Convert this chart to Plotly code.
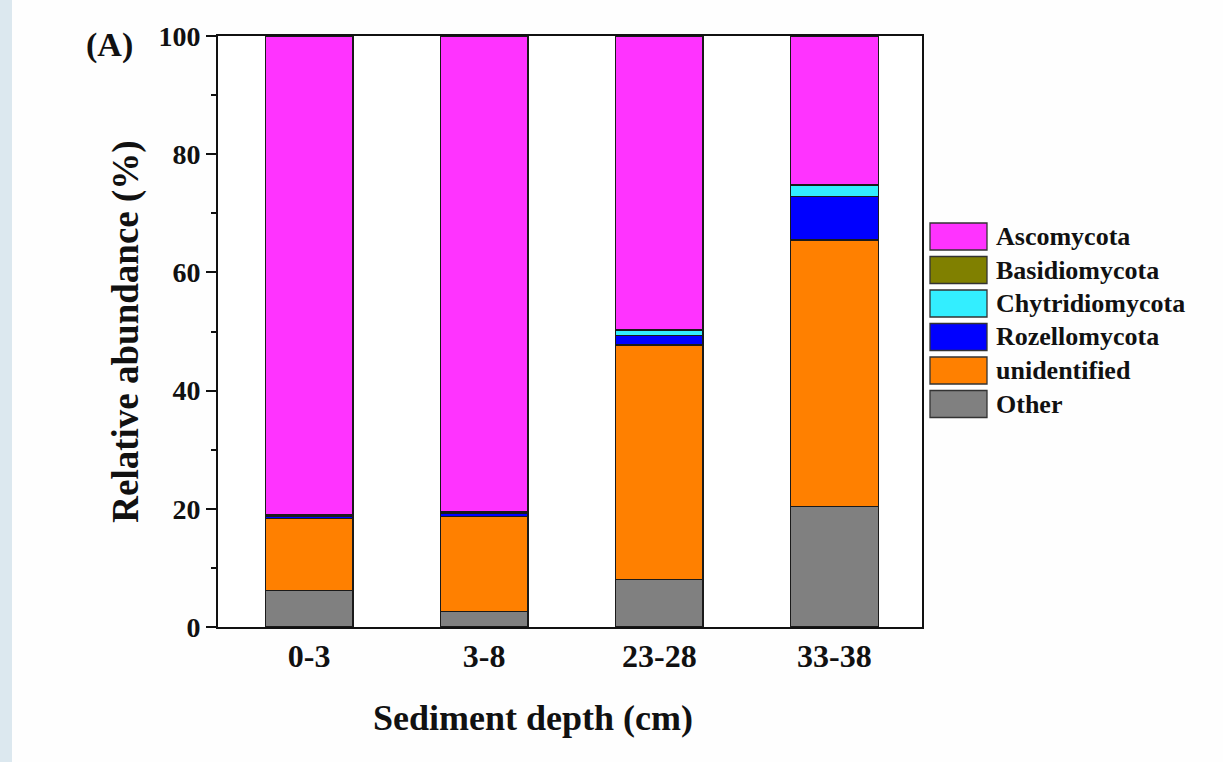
import plotly.graph_objects as go

depths = ["0-3", "3-8", "23-28", "33-38"]
# stacking order from bottom to top
series_names = ["Other", "unidentified", "Rozellomycota", "Chytridiomycota", "Basidiomycota", "Ascomycota"]
other = [6.2, 2.6, 8.0, 20.4]
unidentified = [12.2, 16.1, 39.7, 45.1]
rozellomycota = [0.3, 0.5, 1.6, 7.3]
chytridiomycota = [0.1, 0.1, 0.9, 2.0]
basidiomycota = [0.2, 0.3, 0.1, 0.1]
ascomycota = [81.0, 80.4, 49.7, 25.1]
series_values = [other, unidentified, rozellomycota, chytridiomycota, basidiomycota, ascomycota]
colors = ["#808080", "#FF8000", "#0000FF", "#33EEFF", "#808000", "#FF33FF"]
y_ticks = [0, 20, 40, 60, 80, 100]

FONT = "Liberation Serif"
INK = "#111111"

fig = go.Figure()
for name, vals, col in zip(series_names, series_values, colors):
    fig.add_trace(go.Bar(
        x=depths, y=vals, name=name,
        marker=dict(color=col, line=dict(color="#1a1a1a", width=1.3)),
        showlegend=False,
    ))

# Legend drawn as boxes + text (top to bottom: reverse stacking order)
L = 704.0
T = 591.0
def px_x(p):
    return (p - 218) / L
def px_y(p):
    return (627 - p) / T

legend_items = list(zip(series_names, colors))[::-1]
for i, (name, col) in enumerate(legend_items):
    top = 223 + i * 33.5
    bot = top + 27
    fig.add_shape(type="rect", xref="paper", yref="paper",
                  x0=px_x(930), x1=px_x(987), y0=px_y(bot), y1=px_y(top),
                  fillcolor=col, line=dict(color="#333333", width=1.3))
    fig.add_annotation(xref="paper", yref="paper", x=px_x(994), y=px_y((top + bot) / 2),
                       text=name, showarrow=False, xanchor="left", yanchor="middle",
                       font=dict(family=FONT, size=26, color=INK, weight="bold"))

# left light blue strip of the slide background
fig.add_shape(type="rect", xref="paper", yref="paper",
              x0=px_x(0), x1=px_x(12), y0=px_y(762), y1=px_y(0),
              fillcolor="#dce8ef", line=dict(width=0), layer="below")

fig.add_annotation(xref="paper", yref="paper", x=px_x(109), y=px_y(45),
                   text="(A)", showarrow=False, xanchor="center", yanchor="middle",
                   font=dict(family=FONT, size=34, color=INK, weight="bold"))

# x-axis title (sits left of the axis centre in the original)
fig.add_annotation(xref="paper", yref="paper", x=px_x(533), y=px_y(718),
                   text="Sediment depth (cm)", showarrow=False,
                   xanchor="center", yanchor="middle",
                   font=dict(family=FONT, size=36, color=INK, weight="bold"))

fig.update_layout(
    width=1223, height=762,
    margin=dict(l=218, r=301, t=36, b=135),
    paper_bgcolor="#fefefe", plot_bgcolor="white",
    barmode="stack", bargap=0.5,
    font=dict(family=FONT, color=INK),
    xaxis=dict(
        range=[-0.52, 3.5], showgrid=False, zeroline=False,
        showline=True, linecolor=INK, linewidth=2, mirror=True,
        ticks="", ticklabelstandoff=0,
        tickfont=dict(family=FONT, size=32, color=INK, weight="bold"),
    ),
    yaxis=dict(
        range=[0, 100], showgrid=False, zeroline=False,
        showline=True, linecolor=INK, linewidth=2, mirror=True,
        tickvals=y_ticks, ticks="outside", ticklen=10, tickwidth=2, tickcolor=INK,
        minor=dict(dtick=10, ticks="outside", ticklen=5, tickwidth=2, tickcolor=INK),
        tickfont=dict(family=FONT, size=28, color=INK, weight="bold"),
        title=dict(text="Relative abundance (%)", standoff=8,
                   font=dict(family=FONT, size=37, color=INK, weight="bold")),
    ),
)

fig.write_html("out.html")
